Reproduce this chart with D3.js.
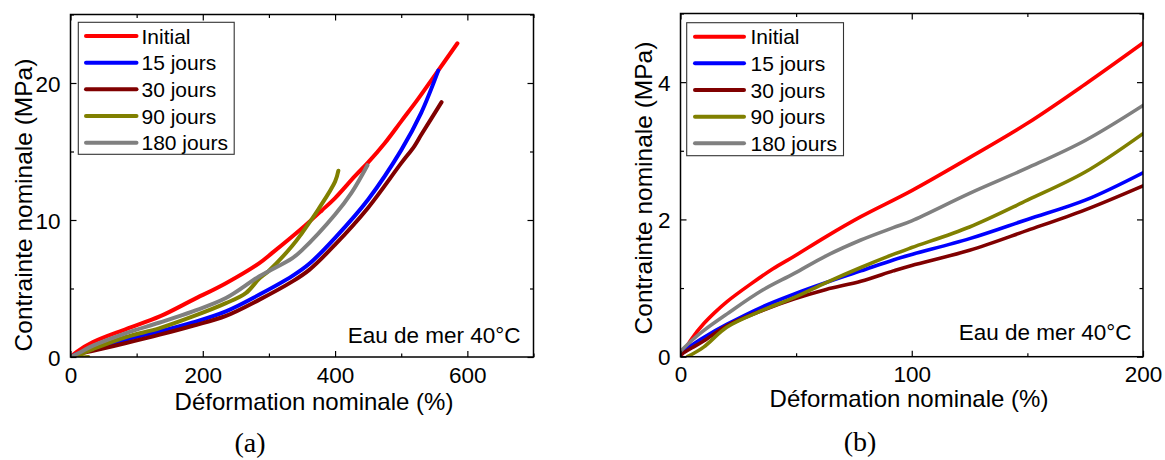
<!DOCTYPE html>
<html>
<head>
<meta charset="utf-8">
<script src="https://cdn.jsdelivr.net/npm/d3@7"></script>
<style>
  html, body { margin: 0; padding: 0; background: #fff; }
  svg { display: block; }
  text { font-family: "Liberation Sans", Arial, sans-serif; fill: #000; }
</style>
</head>
<body>
<svg id="chart" width="1165" height="460"></svg>
<script>
// ---------------- DATA ----------------
const seriesNames = ["Initial", "15 jours", "30 jours", "90 jours", "180 jours"];

// Panel (a): full curves, strain (%) vs stress (MPa)
const a_initial = [[0,0],[10,0.4],[34,1.09],[84,2.04],[135,2.96],[185,4.17],[235,5.39],[285,6.84],[305,7.6],[350,9.4],[380,10.7],[400,11.6],[430,13.2],[450,14.2],[475,15.6],[500,17.2],[525,18.8],[550,20.5],[585,22.9]];
const a_15j = [[0,0],[15,0.3],[34,0.53],[84,1.26],[135,1.87],[185,2.52],[235,3.33],[285,4.54],[335,5.9],[361,6.8],[400,8.7],[450,11.5],[500,15.1],[530,17.8],[556,20.9]];
const a_30j = [[0,0],[15,0.25],[34,0.46],[84,1.02],[135,1.63],[185,2.28],[235,3.0],[285,4.17],[335,5.5],[361,6.36],[400,8.2],[450,10.9],[500,14.15],[520,15.4],[530,16.2],[561,18.6]];
const a_90j = [[27,0],[4,0],[15,0.2],[34,0.58],[84,1.46],[135,2.11],[185,2.96],[235,3.93],[265,4.66],[285,5.7],[300,6.3],[335,8.1],[350,9.05],[375,10.8],[400,12.8],[405,13.6]];
const a_180j = [[0,0],[15,0.35],[34,0.83],[84,1.75],[135,2.52],[185,3.33],[235,4.3],[285,5.87],[335,7.2],[350,7.8],[400,10.4],[425,12.0],[449,14.0]];

// Panel (b): zoom on 0-200 %
const b_initial = [[0,0],[5,0.27],[10,0.48],[15,0.65],[20,0.8],[30,1.05],[40,1.28],[49,1.46],[63,1.75],[78,2.04],[100,2.42],[125,2.9],[150,3.4],[175,3.97],[200,4.57]];
const b_15j = [[0,0.03],[5,0.17],[10,0.28],[20,0.47],[35,0.72],[49,0.91],[63,1.08],[78,1.25],[92,1.41],[100,1.49],[125,1.72],[150,2.0],[175,2.28],[200,2.68]];
const b_30j = [[0,0.03],[5,0.13],[10,0.23],[20,0.45],[35,0.67],[49,0.84],[63,0.98],[78,1.1],[92,1.25],[100,1.33],[125,1.55],[150,1.84],[175,2.14],[200,2.49]];
const b_90j = [[3,0],[10,0.14],[20,0.43],[35,0.67],[49,0.86],[63,1.08],[78,1.3],[92,1.49],[100,1.59],[125,1.89],[150,2.28],[175,2.69],[200,3.25]];
const b_180j = [[0,0.08],[5,0.24],[10,0.38],[20,0.62],[35,0.96],[49,1.21],[63,1.47],[78,1.7],[92,1.88],[100,1.98],[125,2.38],[150,2.75],[175,3.15],[200,3.66]];

// Axes ticks
const a_xMajor = [0, 200, 400, 600];
const a_xMinor = [100, 300, 500, 700];
const a_yMajor = [0, 10, 20];
const a_yMinor = [5, 15, 25];
const b_xMajor = [0, 100, 200];
const b_xMinor = [50, 150];
const b_yMajor = [0, 2, 4];
const b_yMinor = [1, 3, 5];

const xTitle = "Déformation nominale (%)";
const yTitle = "Contrainte nominale (MPa)";
const annotation = "Eau de mer 40°C";

// ---------------- STYLE ----------------
const colors = ["#ff0000", "#0000ff", "#800000", "#808000", "#808080"];

const svg = d3.select("#chart");

function drawPanel(cfg) {
  const g = svg.append("g");
  const x = d3.scaleLinear().domain(cfg.xDomain).range([cfg.left, cfg.right]);
  const y = d3.scaleLinear().domain(cfg.yDomain).range([cfg.bottom, cfg.top]);

  const clipId = "clip-" + cfg.id;
  svg.append("defs").append("clipPath").attr("id", clipId)
    .append("rect")
    .attr("x", cfg.left).attr("y", cfg.top)
    .attr("width", cfg.right - cfg.left).attr("height", cfg.bottom - cfg.top);

  // curves
  const line = d3.line()
    .x(d => x(d[0])).y(d => y(d[1]))
    .curve(d3.curveCatmullRom.alpha(0.5));
  const lines = g.append("g").attr("clip-path", `url(#${clipId})`);
  cfg.series.forEach((s, i) => {
    lines.append("path")
      .datum(s)
      .attr("d", line)
      .attr("fill", "none")
      .attr("stroke", colors[i])
      .attr("stroke-width", cfg.lineWidth)
      .attr("stroke-linecap", "round")
      .attr("stroke-linejoin", "round");
  });

  // axes with inward ticks on all four sides
  const majorLen = 6, minorLen = 3.5;
  const bottomAxis = d3.axisBottom(x).tickValues(cfg.xMajor).tickSizeInner(-majorLen).tickSizeOuter(0).tickFormat(d3.format("d"));
  const bottomMinor = d3.axisBottom(x).tickValues(cfg.xMinor).tickSizeInner(-minorLen).tickSizeOuter(0).tickFormat("");
  const topAxis = d3.axisTop(x).tickValues(cfg.xMajor).tickSizeInner(-majorLen).tickSizeOuter(0).tickFormat("");
  const topMinor = d3.axisTop(x).tickValues(cfg.xMinor).tickSizeInner(-minorLen).tickSizeOuter(0).tickFormat("");
  const leftAxis = d3.axisLeft(y).tickValues(cfg.yMajor).tickSizeInner(-majorLen).tickSizeOuter(0).tickFormat(d3.format("d"));
  const leftMinor = d3.axisLeft(y).tickValues(cfg.yMinor).tickSizeInner(-minorLen).tickSizeOuter(0).tickFormat("");
  const rightAxis = d3.axisRight(y).tickValues(cfg.yMajor).tickSizeInner(-majorLen).tickSizeOuter(0).tickFormat("");
  const rightMinor = d3.axisRight(y).tickValues(cfg.yMinor).tickSizeInner(-minorLen).tickSizeOuter(0).tickFormat("");

  function place(axis, tx, ty) {
    const a = g.append("g").attr("transform", `translate(${tx},${ty})`).call(axis);
    a.select(".domain").remove();
    a.selectAll(".tick line").attr("stroke", "#000").attr("stroke-width", 1.2);
    return a;
  }
  const bx = place(bottomAxis, 0, cfg.bottom);
  place(bottomMinor, 0, cfg.bottom);
  place(topAxis, 0, cfg.top);
  place(topMinor, 0, cfg.top);
  const ly = place(leftAxis, cfg.left, 0);
  place(leftMinor, cfg.left, 0);
  place(rightAxis, cfg.right, 0);
  place(rightMinor, cfg.right, 0);

  bx.selectAll(".tick text")
    .attr("y", cfg.xTickBaseline - cfg.bottom).attr("dy", null)
    .style("font-family", '"Liberation Sans", Arial, sans-serif')
    .style("font-size", "22.5px").attr("fill", "#000");
  ly.selectAll(".tick text")
    .attr("x", -10).attr("dy", "0.36em")
    .style("font-family", '"Liberation Sans", Arial, sans-serif')
    .style("font-size", "22.5px").attr("fill", "#000");

  // frame
  g.append("rect")
    .attr("x", cfg.left).attr("y", cfg.top)
    .attr("width", cfg.right - cfg.left).attr("height", cfg.bottom - cfg.top)
    .attr("fill", "none").attr("stroke", "#000").attr("stroke-width", 1.5);

  // axis titles
  g.append("text")
    .attr("x", cfg.xTitleX).attr("y", cfg.xTitleY)
    .attr("text-anchor", "middle")
    .style("font-size", "24px")
    .text(xTitle);
  g.append("text")
    .attr("transform", `translate(${cfg.yTitleX},${cfg.yTitleY}) rotate(-90)`)
    .attr("text-anchor", "middle")
    .style("font-size", "24.5px")
    .text(yTitle);

  // annotation
  g.append("text")
    .attr("x", cfg.annX).attr("y", cfg.annY)
    .attr("text-anchor", "end")
    .style("font-size", "22.5px")
    .text(annotation);

  // legend
  const L = cfg.legend;
  g.append("rect")
    .attr("x", L.x0).attr("y", L.y0)
    .attr("width", L.x1 - L.x0).attr("height", L.y1 - L.y0)
    .attr("fill", "#fff").attr("stroke", "#333").attr("stroke-width", 1.1);
  seriesNames.forEach((name, i) => {
    const ry = L.rows[i];
    g.append("line")
      .attr("x1", L.lx1).attr("x2", L.lx2).attr("y1", ry).attr("y2", ry)
      .attr("stroke", colors[i]).attr("stroke-width", 4).attr("stroke-linecap", "round");
    g.append("text")
      .attr("x", L.tx).attr("y", ry + 7.5)
      .style("font-size", "21px")
      .text(name);
  });

  // panel label
  g.append("text")
    .attr("x", cfg.labelX).attr("y", cfg.labelY)
    .attr("text-anchor", "middle")
    .style("font-family", '"Liberation Serif", "DejaVu Serif", serif')
    .style("font-size", "28px")
    .text(cfg.label);
}

drawPanel({
  id: "a", label: "(a)",
  left: 70.5, right: 533.5, top: 14.5, bottom: 357,
  xDomain: [0, 700], yDomain: [0, 25],
  xMajor: a_xMajor, xMinor: a_xMinor, yMajor: a_yMajor, yMinor: a_yMinor,
  series: [a_initial, a_15j, a_30j, a_90j, a_180j],
  lineWidth: 4,
  xTickBaseline: 383,
  xTitleX: 314, xTitleY: 410,
  yTitleX: 32, yTitleY: 205,
  annX: 520.5, annY: 342.5,
  legend: { x0: 78.3, x1: 234.2, y0: 22.3, y1: 154.3,
            rows: [36, 62.7, 89.3, 116, 142.7], lx1: 86, lx2: 136.5, tx: 141.5 },
  labelX: 250, labelY: 452
});

drawPanel({
  id: "b", label: "(b)",
  left: 680.5, right: 1143, top: 13.5, bottom: 356.7,
  xDomain: [0, 200], yDomain: [0, 5],
  xMajor: b_xMajor, xMinor: b_xMinor, yMajor: b_yMajor, yMinor: b_yMinor,
  series: [b_initial, b_15j, b_30j, b_90j, b_180j],
  lineWidth: 3.6,
  xTickBaseline: 382,
  xTitleX: 909, xTitleY: 407,
  yTitleX: 652, yTitleY: 188,
  annX: 1131.5, annY: 339.5,
  legend: { x0: 686.7, x1: 843.5, y0: 22.7, y1: 155.7,
            rows: [36.7, 63.3, 90, 116.7, 143.3], lx1: 695, lx2: 744, tx: 750.5 },
  labelX: 860, labelY: 451
});
</script>
</body>
</html>
